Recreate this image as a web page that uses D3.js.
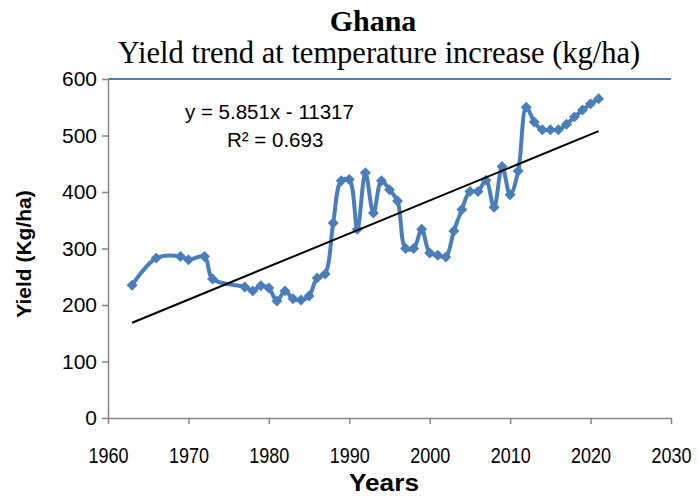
<!DOCTYPE html>
<html>
<head>
<meta charset="utf-8">
<script src="https://cdn.jsdelivr.net/npm/d3@7"></script>
<style>
  body { margin: 0; background: #fff; }
  svg { display: block; }
</style>
</head>
<body>
<div id="chart"></div>
<script>
// data
const years = [1963, 1966, 1969, 1970, 1972, 1973, 1977, 1978, 1979, 1980, 1981, 1982, 1983, 1984, 1985,
    1986, 1987, 1988, 1989, 1990, 1991, 1992, 1993, 1994, 1995, 1996, 1997, 1998, 1999, 2000,
    2001, 2002, 2003, 2004, 2005, 2006, 2007, 2008, 2009, 2010, 2011, 2012, 2013, 2014, 2015,
    2016, 2017, 2018, 2019, 2020, 2021];
const yields = [235, 283, 286, 280, 286, 246, 232, 225, 234, 230, 207, 225, 211, 209, 216,
    248, 255, 345, 420, 422, 334, 434, 363, 420, 404, 384, 300, 300, 334, 292,
    288, 285, 331, 369, 401, 401, 421, 373, 445, 395, 437, 550, 524, 510, 510,
    510, 520, 533, 545, 556, 565];
const xTicks = [1960, 1970, 1980, 1990, 2000, 2010, 2020, 2030];
const yTicks = [0, 100, 200, 300, 400, 500, 600];
const trendSlope = 5.851;
const trendIntercept = -11317;
const eqLines = ["y = 5.851x - 11317", "R² = 0.693"];

const width = 699, height = 498;
const marginLeft = 108, marginRight = 28, marginTop = 79, marginBottom = 80;
const blue = "#4a7ebb";
const axisGrey = "#868686";

const data = years.map((y, i) => ({x: y, y: yields[i]}));

const xScale = d3.scaleLinear().domain([1960, 2030]).range([marginLeft, width - marginRight]);
const yScale = d3.scaleLinear().domain([0, 600]).range([height - marginBottom, marginTop]);

const svg = d3.select("#chart").append("svg")
    .attr("width", width)
    .attr("height", height)
    .attr("viewBox", [0, 0, width, height]);

// titles
svg.append("text")
    .attr("x", 373).attr("y", 31)
    .attr("text-anchor", "middle")
    .attr("font-family", "Liberation Serif, Times New Roman, serif")
    .attr("font-weight", "bold")
    .attr("font-size", 30)
    .text("Ghana");

svg.append("text")
    .attr("x", 379).attr("y", 63)
    .attr("text-anchor", "middle")
    .attr("font-family", "Liberation Serif, Times New Roman, serif")
    .attr("font-size", 30.5)
    .text("Yield trend at temperature increase (kg/ha)");

// top border of plot area
svg.append("line")
    .attr("x1", xScale(1960)).attr("x2", xScale(2030))
    .attr("y1", yScale(600)).attr("y2", yScale(600))
    .attr("stroke", blue)
    .attr("stroke-width", 2);

// y axis
const yAxis = d3.axisLeft(yScale).tickValues(yTicks).tickSize(6).tickSizeOuter(0);
svg.append("g")
    .attr("transform", `translate(${marginLeft},0)`)
    .call(yAxis)
    .call(g => g.select(".domain").attr("stroke", axisGrey).attr("stroke-width", 1.5))
    .call(g => g.selectAll(".tick line").attr("stroke", axisGrey).attr("stroke-width", 1.5))
    .call(g => g.selectAll(".tick text")
        .attr("x", -11)
        .attr("fill", "#000")
        .attr("font-family", "Liberation Sans, Arial, sans-serif")
        .attr("font-size", 21));

// x axis
const xAxis = d3.axisBottom(xScale).tickValues(xTicks).tickFormat(d3.format("d")).tickSize(6).tickSizeOuter(0);
svg.append("g")
    .attr("transform", `translate(0,${height - marginBottom})`)
    .call(xAxis)
    .call(g => g.select(".domain").attr("stroke", axisGrey).attr("stroke-width", 1.5))
    .call(g => g.selectAll(".tick line").attr("stroke", axisGrey).attr("stroke-width", 1.5))
    .call(g => g.selectAll(".tick text")
        .attr("y", 29)
        .attr("fill", "#000")
        .attr("font-family", "Liberation Sans, Arial, sans-serif")
        .attr("font-size", 22)
        .attr("textLength", 40)
        .attr("lengthAdjust", "spacingAndGlyphs"));

// axis titles
svg.append("text")
    .attr("transform", `translate(31,254) rotate(-90)`)
    .attr("text-anchor", "middle")
    .attr("font-family", "Liberation Sans, Arial, sans-serif")
    .attr("font-weight", "bold")
    .attr("font-size", 21)
    .text("Yield (Kg/ha)");

svg.append("text")
    .attr("x", 384).attr("y", 491)
    .attr("text-anchor", "middle")
    .attr("font-family", "Liberation Sans, Arial, sans-serif")
    .attr("font-weight", "bold")
    .attr("font-size", 23)
    .attr("textLength", 70)
    .attr("lengthAdjust", "spacingAndGlyphs")
    .text("Years");

// series line (smoothed)
const line = d3.line()
    .curve(d3.curveCatmullRom.alpha(0.5))
    .x(d => xScale(d.x))
    .y(d => yScale(d.y));

svg.append("path")
    .datum(data)
    .attr("fill", "none")
    .attr("stroke", blue)
    .attr("stroke-width", 4)
    .attr("stroke-linejoin", "round")
    .attr("d", line);

svg.append("g")
    .selectAll("path")
    .data(data)
    .join("path")
    .attr("transform", d => `translate(${xScale(d.x)},${yScale(d.y)}) rotate(45)`)
    .attr("d", d3.symbol(d3.symbolSquare, 60))
    .attr("fill", blue);

// linear trendline
const xExt = d3.extent(years);
const trend = xExt.map(x => ({x, y: trendSlope * x + trendIntercept}));
svg.append("path")
    .datum(trend)
    .attr("fill", "none")
    .attr("stroke", "#000")
    .attr("stroke-width", 2)
    .attr("d", d3.line().x(d => xScale(d.x)).y(d => yScale(d.y)));

// equation label
svg.append("text")
    .attr("x", 185).attr("y", 119)
    .attr("font-family", "Liberation Sans, Arial, sans-serif")
    .attr("font-size", 20.5)
    .text(eqLines[0]);
svg.append("text")
    .attr("x", 227).attr("y", 147)
    .attr("font-family", "Liberation Sans, Arial, sans-serif")
    .attr("font-size", 20.5)
    .text(eqLines[1]);
</script>
</body>
</html>
